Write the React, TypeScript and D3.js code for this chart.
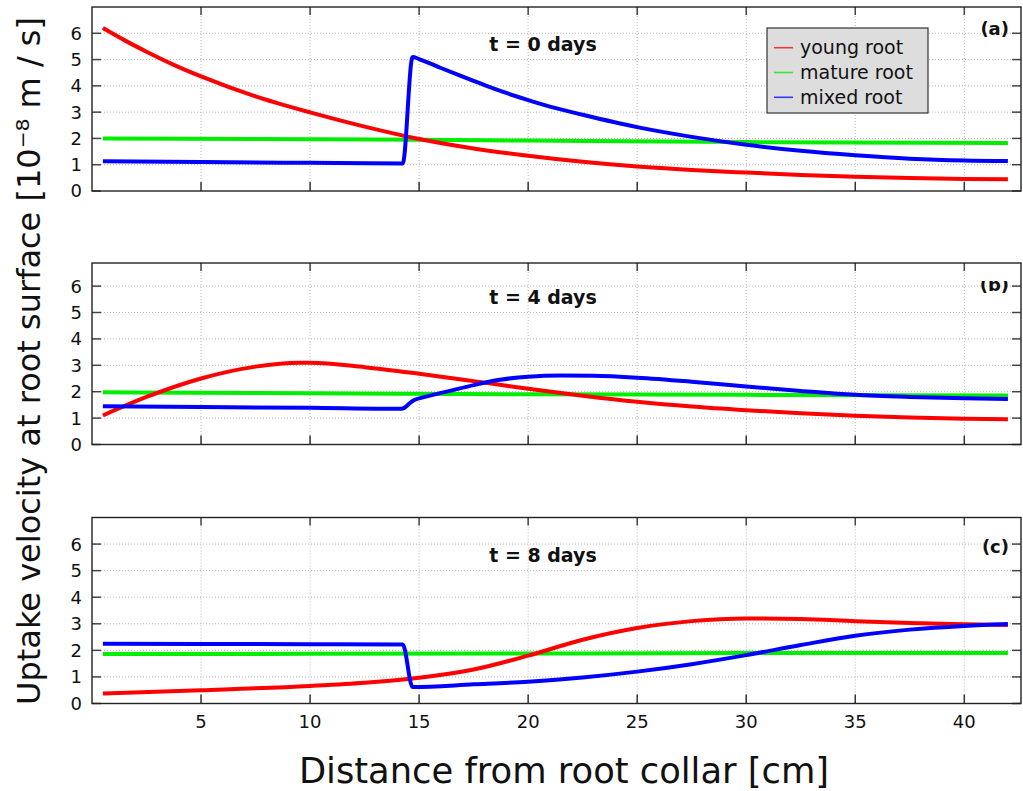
import React from 'react';
import * as d3 from 'd3';

// x in cm, y in 1e-8 m/s
const youngT0 = [[0.5,6.2],[1.5,5.73],[2.5,5.3],[3.75,4.8],[5,4.36],[7.5,3.6],[10,2.99],[12.5,2.45],[15,1.98],[17.5,1.62],[20,1.34],[22.5,1.11],[25,0.93],[27.5,0.8],[30,0.7],[32.5,0.61],[35,0.54],[37.5,0.49],[40,0.46],[42,0.45]];
const matureT0 = [[0.5,2.0],[10,1.97],[15,1.95],[20,1.92],[30,1.86],[42,1.83]];
const mixedT0 = [[0.5,1.13],[5,1.1],[10,1.07],[14.25,1.05],[14.7,5.1],[15,5.02],[16,4.68],[17,4.35],[18,4.03],[19,3.73],[20,3.46],[21,3.21],[22.5,2.9],[25,2.43],[27.5,2.06],[30,1.76],[32.5,1.53],[35,1.36],[37.5,1.23],[40,1.16],[42,1.14]];

const youngT4 = [[0.5,1.1],[2.5,1.8],[5,2.5],[7.5,2.95],[9.5,3.1],[10,3.1],[12.5,2.93],[15,2.68],[17.5,2.4],[20,2.11],[22.5,1.85],[25,1.62],[27.5,1.44],[30,1.3],[32.5,1.18],[35,1.09],[37.5,1.02],[40,0.98],[42,0.96]];
const matureT4 = [[0.5,1.98],[10,1.94],[20,1.9],[30,1.88],[42,1.86]];
const mixedT4 = [[0.5,1.45],[5,1.42],[10,1.39],[14.2,1.35],[14.7,1.65],[15.5,1.85],[16.5,2.05],[17.5,2.25],[18.7,2.45],[20,2.57],[21.5,2.61],[23,2.6],[25,2.53],[27.5,2.38],[30,2.2],[32.5,2.03],[35,1.88],[37.5,1.8],[40,1.75],[42,1.72]];

const youngT8 = [[0.5,0.38],[5,0.5],[10,0.66],[12.5,0.78],[15,0.97],[17.5,1.28],[20,1.8],[22.5,2.4],[25,2.84],[27.5,3.1],[30,3.2],[32.5,3.18],[35,3.1],[37.5,3.03],[40,2.98],[42,2.95]];
const matureT8 = [[0.5,1.86],[10,1.87],[20,1.88],[30,1.9],[42,1.9]];
const mixedT8 = [[0.5,2.25],[5,2.24],[10,2.23],[14.25,2.22],[14.7,0.62],[17.5,0.72],[20,0.82],[22.5,0.98],[25,1.2],[27.5,1.48],[30,1.82],[32.5,2.2],[35,2.55],[37.5,2.78],[40,2.92],[42,2.99]];

const panelTitles = ['t = 0 days', 't = 4 days', 't = 8 days'];
const panelTags = ['(a)', '(b)', '(c)'];
const seriesNames = ['young root', 'mature root', 'mixed root'];
const seriesColors = ['#ff0000', '#00ee00', '#0000ff'];
const xTicks = [5, 10, 15, 20, 25, 30, 35, 40];
const yTicks = [0, 1, 2, 3, 4, 5, 6];

const panelData = [
  [youngT0, matureT0, mixedT0],
  [youngT4, matureT4, mixedT4],
  [youngT8, matureT8, mixedT8],
];

// frame geometry per panel
const panels = [
  { top: 7, bottom: 191, tagY: 35 },
  { top: 263, bottom: 444.5, tagY: 291 },
  { top: 517.5, bottom: 703.5, tagY: 553 },
];

const left = 92;
const right = 1021;
const font = 'DejaVu Sans, sans-serif';

const x = d3.scaleLinear().domain([0, 42.6]).range([left, right]);

function Panel({ idx }: { idx: number }) {
  const p = panels[idx];
  const unit = idx === 1 ? 26.4 : (p.bottom - p.top) / 7;
  const y = d3.scaleLinear().domain([0, 7]).range([p.bottom, p.bottom - 7 * unit]);
  const line = d3
    .line<number[]>()
    .x((d) => x(d[0]))
    .y((d) => y(d[1]))
    .curve(d3.curveMonotoneX);
  const data = panelData[idx];
  const order = [1, 0, 2];
  const clipId = `tagclip${idx}`;
  return (
    <g>
      {idx === 1 && (
        <defs>
          <clipPath id={clipId}>
            <rect x={900} y={281} width={200} height={40} />
          </clipPath>
        </defs>
      )}
      {/* grid */}
      {yTicks.filter((t) => t > 0).map((t) => (
        <line key={'gy' + t} x1={left} x2={right} y1={y(t)} y2={y(t)} stroke="#b8b8b8" strokeWidth={1} strokeDasharray="1,2" />
      ))}
      {xTicks.map((t) => (
        <line key={'gx' + t} x1={x(t)} x2={x(t)} y1={p.top} y2={p.bottom} stroke="#b8b8b8" strokeWidth={1} strokeDasharray="1,2" />
      ))}
      {/* ticks */}
      {yTicks.map((t) => (
        <g key={'ty' + t}>
          <line x1={left} x2={left + 9} y1={y(t)} y2={y(t)} stroke="#444" strokeWidth={1.5} />
          <line x1={right - 9} x2={right} y1={y(t)} y2={y(t)} stroke="#444" strokeWidth={1.5} />
          <text x={82} y={y(t)} dy="0.36em" textAnchor="end" fontSize={18} fontFamily={font} fill="#111">{t}</text>
        </g>
      ))}
      {xTicks.map((t) => (
        <g key={'tx' + t}>
          <line x1={x(t)} x2={x(t)} y1={p.bottom} y2={p.bottom - 9} stroke="#333" strokeWidth={1.5} />
          <line x1={x(t)} x2={x(t)} y1={p.top} y2={p.top + 8} stroke="#444" strokeWidth={1.5} />
          {idx === 2 && (
            <text x={x(t)} y={p.bottom + 24} textAnchor="middle" fontSize={18} fontFamily={font} fill="#111">{t}</text>
          )}
        </g>
      ))}
      {/* series */}
      {order.map((s) => (
        <path key={'s' + s} d={line(data[s]) || ''} fill="none" stroke={seriesColors[s]} strokeWidth={4} strokeLinejoin="round" />
      ))}
      {/* frame */}
      <rect x={left} y={p.top} width={right - left} height={p.bottom - p.top} fill="none" stroke="#222" strokeWidth={1.4} />
      <text x={543} y={y(5.33)} textAnchor="middle" fontSize={19} fontWeight="bold" fontFamily={font} fill="#111">{panelTitles[idx]}</text>
      <text x={1009} y={p.tagY} textAnchor="end" fontSize={18} fontWeight="bold" fontFamily={font} fill="#111"
        clipPath={idx === 1 ? `url(#${clipId})` : undefined}>{panelTags[idx]}</text>
    </g>
  );
}

function Legend() {
  const bx = 767, by = 28, bw = 161, bh = 85;
  return (
    <g>
      <rect x={bx} y={by} width={bw} height={bh} fill="#dddddd" stroke="#333" strokeWidth={1.2} />
      {seriesNames.map((n, i) => {
        const cy = 47.7 + i * 24.8;
        return (
          <g key={n}>
            <line x1={774} x2={793} y1={cy} y2={cy} stroke={seriesColors[i]} strokeWidth={1.6} opacity={0.75} />
            <text x={800} y={cy} dy="0.34em" fontSize={19} fontFamily={font} fill="#111">{n}</text>
          </g>
        );
      })}
    </g>
  );
}

export default function App() {
  return (
    <svg width={1023} height={791} style={{ position: 'absolute', left: 0, top: 0, background: '#fff' }}>
      <rect x={0} y={0} width={1023} height={791} fill="#fff" />
      {[0, 1, 2].map((i) => (
        <Panel key={i} idx={i} />
      ))}
      <Legend />
      <text transform="translate(40,361) rotate(-90)" textAnchor="middle" fontSize={32} fontFamily={font} fill="#111">
        Uptake velocity at root surface [10⁻⁸ m / s]
      </text>
      <text x={564} y={783} textAnchor="middle" fontSize={35.3} fontFamily={font} fill="#111">
        Distance from root collar [cm]
      </text>
    </svg>
  );
}
